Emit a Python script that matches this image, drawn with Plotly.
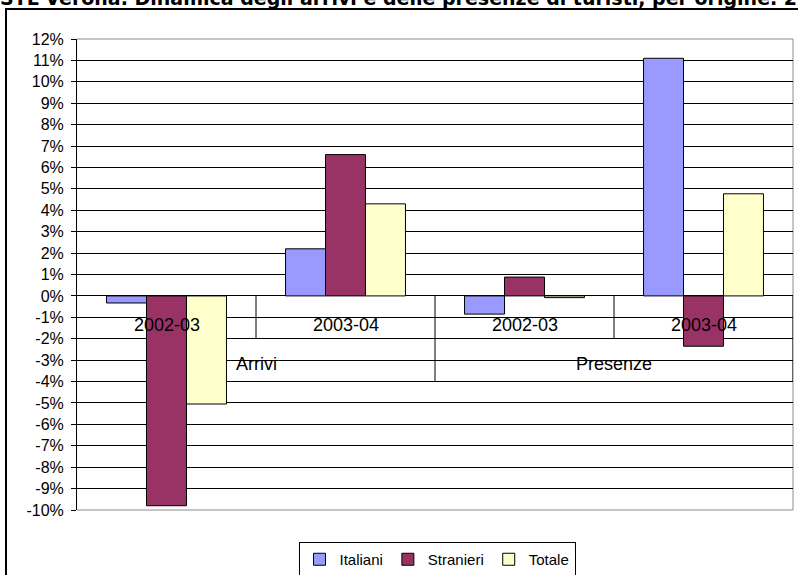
import plotly.graph_objects as go

# Variazioni percentuali di arrivi e presenze per origine dei turisti
gruppi = ["Arrivi", "Presenze"]
periodi = ["2002-03", "2003-04", "2002-03", "2003-04"]
serie = ["Italiani", "Stranieri", "Totale"]
italiani = [-0.33, 2.2, -0.85, 11.1]
stranieri = [-9.8, 6.6, 0.88, -2.35]
totale = [-5.05, 4.3, -0.08, 4.77]
colori = ["#9999FF", "#993366", "#FFFFCC"]

tick_vals = list(range(-10, 13))
tick_text = [f"{v}%" for v in tick_vals]

titolo = "STL Verona. Dinamica degli arrivi e delle presenze di turisti, per origine. 2002-2004"

W, H = 798, 575
L, R, T, B = 7, 0, 10, 0
pw, ph = W - L - R, H - T - B


def px_x(p):
    return (p - L) / pw


def px_y(p):
    return (H - B - p) / ph


fig = go.Figure()
xs = list(range(len(periodi)))
for nome, valori, col in zip(serie, [italiani, stranieri, totale], colori):
    fig.add_trace(go.Bar(
        x=xs, y=valori, name=nome,
        marker=dict(color=col, line=dict(color="black", width=1)),
    ))
# sottografico vuoto che disegna la cornice esterna (lati sinistro e superiore)
fig.add_trace(go.Scatter(x=[], y=[], xaxis="x2", yaxis="y2", showlegend=False,
                         hoverinfo="skip"))

font = "Liberation Sans, Arial, sans-serif"
ann = []
# etichette del primo livello (periodi)
for i, p in enumerate(periodi):
    ann.append(dict(x=i, y=-1.35, xref="x", yref="y", text=p, showarrow=False,
                    xanchor="center", yanchor="middle",
                    font=dict(family=font, size=18, color="black")))
# etichette del secondo livello (gruppi)
for g, nome in enumerate(gruppi):
    ann.append(dict(x=2 * g + 0.5, y=-3.2, xref="x", yref="y", text=nome, showarrow=False,
                    xanchor="center", yanchor="middle",
                    font=dict(family=font, size=18, color="black")))
# titolo, in parte oltre il bordo superiore della pagina
ann.append(dict(x=px_x(-2), y=px_y(11), xref="paper", yref="paper", text=titolo,
                showarrow=False, xanchor="left", yanchor="bottom",
                font=dict(family="DejaVu Sans", size=19, color="black", weight="bold")))

shapes = []
# tabella delle categorie
for xb, yb in [(0.5, -2), (1.5, -4), (2.5, -2), (3.5, -4)]:
    shapes.append(dict(type="line", xref="x", yref="y", x0=xb, x1=xb, y0=0, y1=yb,
                       line=dict(color="black", width=1), layer="above"))
# bordo dell'area del grafico
grigio = "#8c8c8c"
shapes.append(dict(type="line", xref="x domain", yref="y domain", x0=0, x1=1, y0=1, y1=1,
                   line=dict(color=grigio, width=1)))
shapes.append(dict(type="line", xref="x domain", yref="y domain", x0=0, x1=1, y0=0, y1=0,
                   line=dict(color=grigio, width=1)))
shapes.append(dict(type="line", xref="x domain", yref="y domain", x0=1, x1=1, y0=0, y1=1,
                   line=dict(color=grigio, width=1), layer="below"))

fig.update_layout(
    width=W, height=H, autosize=False,
    margin=dict(l=L, r=R, t=T, b=B, pad=0, autoexpand=False),
    paper_bgcolor="white", plot_bgcolor="rgba(0,0,0,0)",
    barmode="group", bargap=0.33, bargroupgap=0,
    showlegend=True,
    legend=dict(orientation="h", x=px_x(437), xanchor="center",
                y=px_y(542), yanchor="top",
                bgcolor="white", bordercolor="black", borderwidth=1,
                font=dict(family=font, size=15, color="black"),
                itemwidth=30, traceorder="normal"),
    annotations=ann,
    shapes=shapes,
    xaxis=dict(domain=[px_x(77), px_x(793)], anchor="y",
               range=[-0.5, 3.5], showticklabels=False, showgrid=False,
               zeroline=False, showline=False, ticks="", automargin=False),
    yaxis=dict(domain=[px_y(510), px_y(39)], anchor="x",
               range=[-10, 12], tickvals=tick_vals, ticktext=tick_text,
               showgrid=True, gridcolor="black", gridwidth=1,
               zeroline=True, zerolinecolor="black", zerolinewidth=1,
               showline=True, linecolor="black", linewidth=1,
               ticks="outside", ticklen=5, tickcolor="black",
               ticklabelstandoff=4,
               tickfont=dict(family=font, size=16, color="black"),
               automargin=False),
    xaxis2=dict(domain=[0, 1], anchor="y2", side="top", range=[0, 1],
                showline=True, linecolor="black", linewidth=2,
                showgrid=False, zeroline=False, showticklabels=False, ticks="",
                automargin=False, fixedrange=True),
    yaxis2=dict(domain=[0, 1], anchor="x2", side="left", range=[0, 1],
                showline=True, linecolor="black", linewidth=2,
                showgrid=False, zeroline=False, showticklabels=False, ticks="",
                automargin=False, fixedrange=True),
)

fig.write_html("out.html")
